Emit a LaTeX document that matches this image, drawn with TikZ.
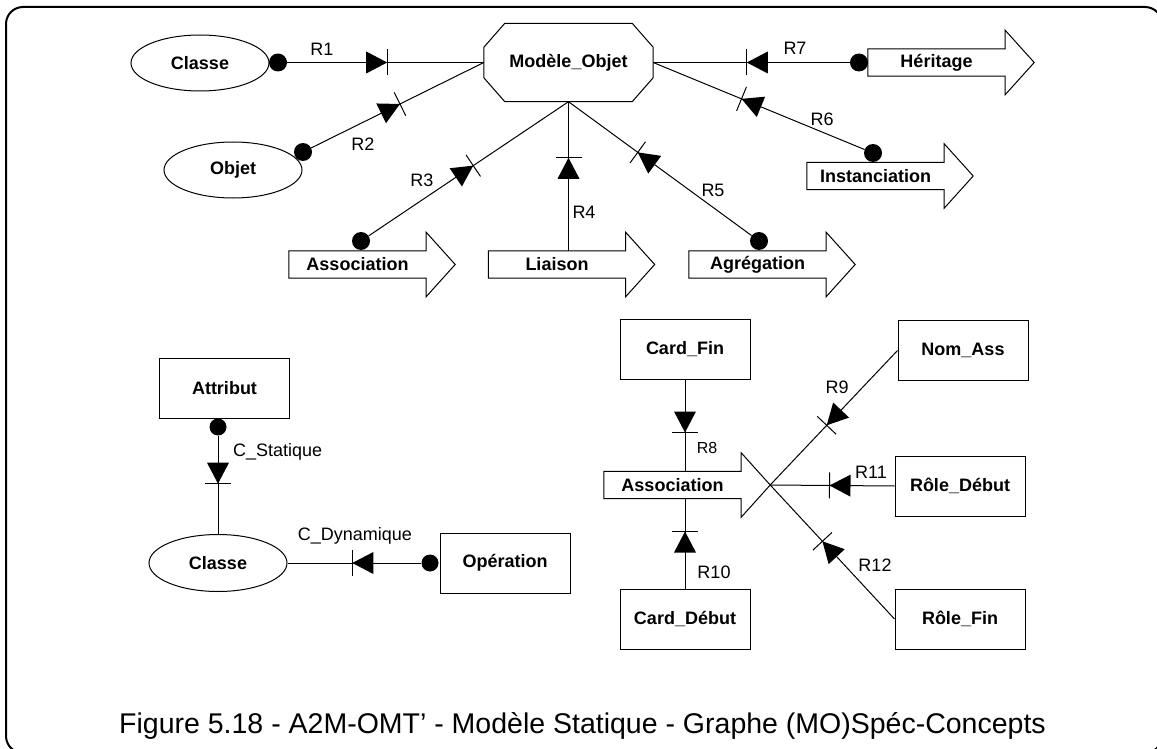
\documentclass[tikz,border=0pt]{standalone}
\usepackage{fontspec}
\setmainfont{Liberation Sans}
\usetikzlibrary{shapes.geometric,calc,decorations.markings}
\tikzset{
  lbl/.style={font=\fontsize{18}{20}\selectfont, inner sep=0pt},
  bx/.style={draw, line width=1pt, minimum width=130pt, minimum height=60pt, inner sep=0pt, font=\fontsize{18}{20}\selectfont\bfseries},
  ell/.style={ellipse, draw, line width=1pt, minimum width=138pt, minimum height=56pt, inner sep=0pt, font=\fontsize{18}{20}\selectfont\bfseries},
  fatbox/.style={minimum width=137pt, minimum height=27pt, inner sep=0pt, font=\fontsize{18}{20}\selectfont\bfseries},
  dot/.style={circle, fill, inner sep=0pt, minimum size=18pt},
  conn/.style={line width=1pt},
  diode/.style={postaction={decorate, decoration={markings, mark=at position #1 with {\fill (-21pt,-11pt) -- (-21pt,11pt) -- (0pt,0pt) -- cycle; \draw[line width=1pt] (0pt,-13pt) -- (0pt,13pt);}}}},
}
\newcommand\fatoutline[1]{\draw[line width=1pt] (#1.north west) -- (#1.north east) -- ++(0,-18.5) -- ($(#1.east)+(29,0)$) -- ($(#1.south east)+(0,18.5)$) -- (#1.south east) -- (#1.south west) -- cycle;}
\begin{document}
\begin{tikzpicture}[x=1pt,y=-1pt]
\useasboundingbox (0,0) rectangle (1157,749);
\clip (0,0) rectangle (1157,749);
\draw[line width=2pt, rounded corners=17pt] (6,7) rectangle (1162,753);

% top part
\node[ell] (cl1) at (200,63) {Classe};
\node[ell] (obj) at (233,170) {Objet};
\node[minimum width=169pt, minimum height=78pt, inner sep=0pt, font=\fontsize{18}{20}\selectfont\bfseries] (mo) at (568.5,62.5) {Modèle\_Objet};
\draw[line width=1pt] ($(mo.north west)+(21,0)$) -- ($(mo.north east)+(-21,0)$) -- ($(mo.north east)+(0,24)$) -- ($(mo.south east)+(0,-24)$) -- ($(mo.south east)+(-21,0)$) -- ($(mo.south west)+(21,0)$) -- ($(mo.south west)+(0,-24)$) -- ($(mo.north west)+(0,24)$) -- cycle;

\node[dot] (d1) at (278,62.5) {};
\node[dot] (d2) at (303,152) {};
\node[fatbox] (her) at (936.5,62.5) {Héritage};
\fatoutline{her}
\node[dot] (d7) at (859,62.5) {};
\node[fatbox] (ins) at (875.5,176) {Instanciation};
\fatoutline{ins}
\node[dot] (d6) at (873,153) {};
\node[fatbox] (asc) at (357.5,264.5) {Association};
\fatoutline{asc}
\node[dot] (d3) at (361,241) {};
\node[fatbox] (lia) at (557,264.5) {Liaison};
\fatoutline{lia}
\node[fatbox] (agr) at (757.5,264.5) {Agrégation};
\fatoutline{agr}
\node[dot] (d5) at (759,241) {};

\draw[conn, diode=100pt] (d1) -- (mo.west);
\draw[conn, diode=99pt] (d2) -- (mo.west);
\draw[conn, diode=126pt] (d3) -- (mo.south);
\draw[conn, diode=93pt] (mo.south |- lia.north) -- (mo.south);
\draw[conn, diode=141pt] (d5) -- (mo.south);
\draw[conn, diode=133pt] (d6) -- (mo.east);
\draw[conn, diode=103pt] (d7) -- (mo.east);

\node[lbl] (r1) at (322,49) {R1};
\node[lbl] (r2) at (363,144) {R2};
\node[lbl] (r3) at (422,180) {R3};
\node[lbl] (r4) at (584,212) {R4};
\node[lbl] (r5) at (713,190) {R5};
\node[lbl] (r6) at (822,119) {R6};
\node[lbl] (r7) at (795,48) {R7};

% lower left
\node[bx] (att) at (224.5,388) {Attribut};
\node[dot, minimum size=17pt] (d8) at (218,427) {};
\node[ell, minimum height=57pt] (cl2) at (218,563) {Classe};
\node[bx] (op) at (505,563) {Opération};
\node[dot, minimum size=17pt] (d9) at (430,563) {};
\draw[conn, diode=48pt] (d8) -- (cl2.north);
\draw[conn, diode=69pt] (d9) -- (cl2.east);
\node[lbl, anchor=west] (cs) at (233,452) {C\_Statique};
\node[lbl] (cdyn) at (355,536) {C\_Dynamique};

% lower right
\node[bx] (cf) at (685,349) {Card\_Fin};
\node[bx] (cd) at (685,619) {Card\_Début};
\node[fatbox] (a2) at (672.5,485) {Association};
\fatoutline{a2}
\coordinate (a2tip) at ($(a2.east)+(29,0)$);
\node[bx] (nom) at (963,350.5) {Nom\_Ass};
\node[bx] (rd) at (960,486) {Rôle\_Début};
\node[bx] (rf) at (960,619) {Rôle\_Fin};
\draw[conn, diode=53pt] (cf.south) -- (cf.south |- a2.north);
\draw[conn, diode=57pt] (cd.north) -- (cd.north |- a2.south);
\draw[conn, diode=103pt] (nom.west) -- (a2tip);
\draw[conn, diode=65pt] (rd.west) -- (a2tip);
\draw[conn, diode=106pt] (rf.west) -- (a2tip);
\node[lbl, font=\fontsize{16}{18}\selectfont] (r8) at (707,448) {R8};
\node[lbl] (r9) at (837,387) {R9};
\node[lbl] (r10) at (714,572) {R10};
\node[lbl] (r11) at (871,472) {R11};
\node[lbl] (r12) at (875,565) {R12};

\node[inner sep=0pt, anchor=base, font=\fontsize{28.5}{30}\selectfont] (cap) at (582.5,733) {Figure 5.18 - A2M-OMT’ - Modèle Statique - Graphe (MO)Spéc-Concepts};
\end{tikzpicture}
\end{document}
